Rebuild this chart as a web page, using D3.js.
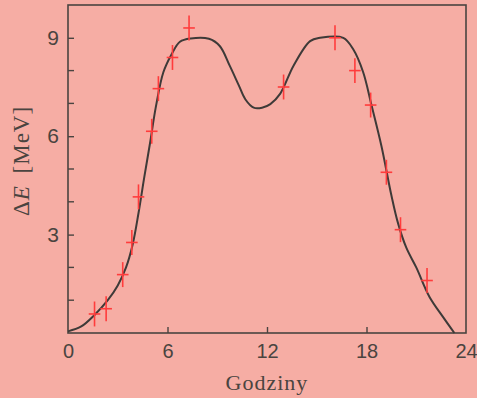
<!DOCTYPE html>
<html>
<head>
<meta charset="utf-8">
<script src="https://cdn.jsdelivr.net/npm/d3@7"></script>
<style>
  html, body { margin: 0; padding: 0; background: #f6ada4; }
  svg { display: block; }
</style>
</head>
<body>
<script>
// measured points (hours, MeV)
const hours = [1.6, 2.3, 3.3, 3.85, 4.25, 5.05, 5.45, 6.3, 7.3, 13.0, 16.1, 17.3, 18.25, 19.2, 20.05, 21.65]
const energy = [0.58, 0.74, 1.78, 2.76, 4.15, 6.15, 7.45, 8.4, 9.3, 7.5, 9.0, 8.0, 6.95, 4.9, 3.15, 1.6]
const errX = 0.35
const errY = 0.38

// smooth curve through the picture
const curveX = [0, 0.8, 1.6, 2.4, 3.0, 3.5, 3.9, 4.25, 4.6, 4.95, 5.3, 5.75, 6.25, 6.75, 7.4, 8.5, 9.15, 9.75, 10.3, 10.7, 11.2, 11.7, 12.2, 12.8, 13.6, 14.6, 15.2, 16.6, 17.2, 17.8, 18.3, 18.9, 19.5, 19.9, 20.4, 21.0, 21.8, 22.6, 23.3]
const curveY = [0.05, 0.2, 0.55, 1.0, 1.45, 2.0, 2.7, 3.65, 4.75, 5.8, 6.9, 7.95, 8.5, 8.88, 8.98, 8.97, 8.75, 8.15, 7.55, 7.12, 6.87, 6.87, 6.98, 7.3, 8.15, 8.9, 9.0, 9.0, 8.65, 7.95, 6.95, 5.7, 4.2, 3.35, 2.6, 2.0, 1.1, 0.5, 0.0]

const xTicks = [0, 6, 12, 18, 24]
const yTicks = [3, 6, 9]
const yMinor = [1, 2, 4, 5, 7, 8]

const W = 477, H = 398
const margin = {left: 68, right: 11, top: 5, bottom: 65}

const x = d3.scaleLinear().domain([0, 24]).range([margin.left, W - margin.right])
const y = d3.scaleLinear().domain([0, 10]).range([H - margin.bottom, margin.top])

const svg = d3.select('body').append('svg')
    .attr('width', W)
    .attr('height', H)
    .style('font-family', '"Liberation Serif", "DejaVu Serif", serif')

const ink = '#4a4440'

// frame
svg.append('rect')
    .attr('x', x(0))
    .attr('y', y(10))
    .attr('width', x(24) - x(0))
    .attr('height', y(0) - y(10))
    .attr('fill', 'none')
    .attr('stroke', ink)
    .attr('stroke-width', 1.6)

// axes with inward ticks
const xAxis = d3.axisBottom(x).tickValues(xTicks).tickSize(-6).tickPadding(11).tickFormat(d3.format('d'))
const gx = svg.append('g')
    .attr('transform', `translate(0,${y(0)})`)
    .call(xAxis)
gx.select('.domain').remove()
gx.selectAll('.tick line').attr('stroke', ink).attr('stroke-width', 1.4)
    .filter(d => d === 0 || d === 24).remove()
gx.selectAll('.tick text').attr('fill', ink).style('font-size', '20px')

const yAxis = d3.axisLeft(y).tickValues(yTicks).tickSize(-6).tickPadding(9).tickFormat(d3.format('d'))
const gy = svg.append('g')
    .attr('transform', `translate(${x(0)},0)`)
    .call(yAxis)
gy.select('.domain').remove()
gy.selectAll('.tick line').attr('stroke', ink).attr('stroke-width', 1.4)
gy.selectAll('.tick text').attr('fill', ink).style('font-size', '21px')

svg.append('g')
    .selectAll('line')
    .data(yMinor)
    .join('line')
    .attr('x1', x(0))
    .attr('x2', x(0) + 6)
    .attr('y1', d => y(d))
    .attr('y2', d => y(d))
    .attr('stroke', ink)
    .attr('stroke-width', 1.4)

// labels
svg.append('text')
    .attr('x', (x(0) + x(24)) / 2)
    .attr('y', 390)
    .attr('text-anchor', 'middle')
    .attr('fill', ink)
    .style('font-size', '22px')
    .style('letter-spacing', '1px')
    .text('Godziny')

const yl = svg.append('text')
    .attr('transform', `translate(29,${161}) rotate(-90)`)
    .attr('text-anchor', 'middle')
    .attr('fill', ink)
    .style('font-size', '23px')
    .style('letter-spacing', '1px')
yl.append('tspan').text('Δ')
yl.append('tspan').style('font-style', 'italic').text('E')
yl.append('tspan').attr('dx', 5).text(' [MeV]')

// curve
const curveData = curveX.map((d, i) => [d, curveY[i]])
svg.append('path')
    .datum(curveData)
    .attr('fill', 'none')
    .attr('stroke', '#3e3a38')
    .attr('stroke-width', 2)
    .attr('d', d3.line().x(d => x(d[0])).y(d => y(d[1])).curve(d3.curveCatmullRom.alpha(0.5)))

// data crosses
const points = hours.map((d, i) => ({h: d, e: energy[i]}))
const cross = svg.append('g')
    .attr('stroke', '#ff3c3c')
    .attr('stroke-width', 1.6)
    .selectAll('g')
    .data(points)
    .join('g')
cross.append('line')
    .attr('x1', d => x(d.h - errX)).attr('x2', d => x(d.h + errX))
    .attr('y1', d => y(d.e)).attr('y2', d => y(d.e))
cross.append('line')
    .attr('x1', d => x(d.h)).attr('x2', d => x(d.h))
    .attr('y1', d => y(d.e - errY)).attr('y2', d => y(d.e + errY))
</script>
</body>
</html>
